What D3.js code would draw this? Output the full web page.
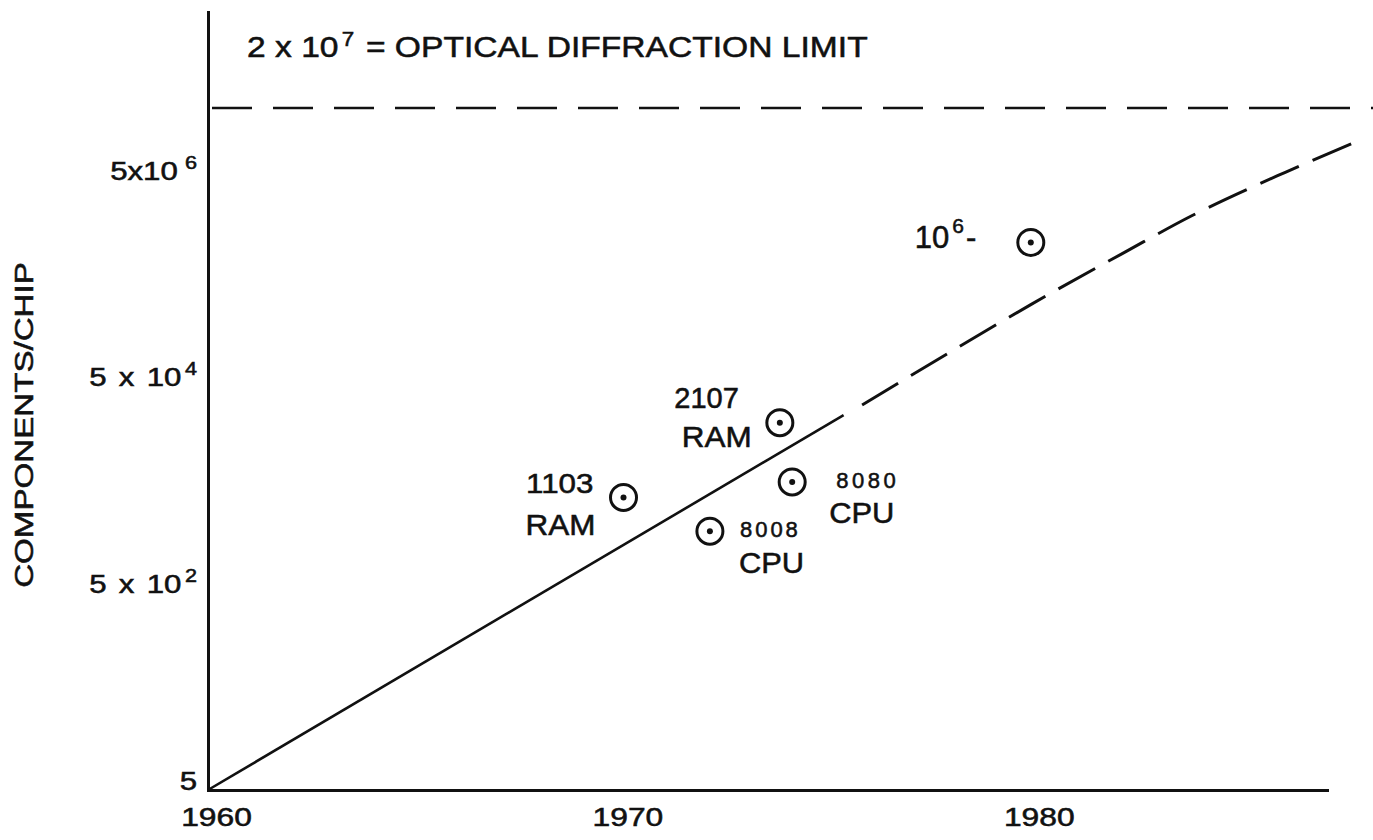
<!DOCTYPE html>
<html>
<head>
<meta charset="utf-8">
<script src="https://cdn.jsdelivr.net/npm/d3@7"></script>
<style>
  html, body { margin: 0; padding: 0; background: #fff; }
  svg { display: block; }
  text { font-family: "Liberation Sans", Arial, Helvetica, sans-serif; fill: #111; stroke: #111; stroke-width: 0.55px; }
</style>
</head>
<body>
<svg id="chart" width="1373" height="840"></svg>
<script>
// ---- data -------------------------------------------------------------
// Time axis ticks
const yearTicks = [1960, 1970, 1980];
// Components-per-chip ticks and their printed labels ("^" marks the power)
const countTicks = [5, 500, 5e4, 5e6];
const countTickLabels = ["5", "5 x 10^2", "5 x 10^4", "5x10^6"];

// Observed growth (solid) and the projected curve (dashed)
const trendYears = [1960, 1975.45];
const trendCounts = [5, 21300];
const projectionYears = [1975.9, 1978.0, 1980.0, 1982.3, 1983.9, 1986.2, 1987.9];
const projectionCounts = [26700, 85000, 250000, 810000, 1.8e6, 4.8e6, 9.4e6];

// Individual devices
const deviceNames = ["1103 RAM", "8008 CPU", "2107 RAM", "8080 CPU", "10^6"];
const deviceLabels = [["1103", "RAM"], ["8008", "CPU"], ["2107", "RAM"], ["8080", "CPU"], ["10^6-"]];
const deviceYears = [1970.1, 1972.2, 1973.9, 1974.2, 1980.0];
const deviceCounts = [3400, 1600, 18000, 4800, 1e6];

// Physical ceiling
const diffractionLimit = 2e7;
const diffractionText = "2 x 10^7 = OPTICAL DIFFRACTION LIMIT";
const yTitle = "COMPONENTS/CHIP";

// ---- layout ------------------------------------------------------------
const W = 1373, H = 840;
const ink = "#111";

// label placement relative to each device marker
const deviceLabelLayout = {
  "1103 RAM": [{dx: -30, dy: -4, size: 28, sx: 1.12, anchor: "end"},
               {dx: -28, dy: 38, size: 30, sx: 1.05, anchor: "end"}],
  "8008 CPU": [{dx: 30, dy: 6, size: 22, sx: 1.0, anchor: "start", ls: 3},
               {dx: 29, dy: 42, size: 30, sx: 1.03, anchor: "start"}],
  "2107 RAM": [{dx: -41, dy: -15, size: 29, sx: 1.0, anchor: "end"},
               {dx: -28, dy: 24, size: 30, sx: 1.05, anchor: "end"}],
  "8080 CPU": [{dx: 44, dy: 6, size: 22, sx: 1.0, anchor: "start", ls: 3.5},
               {dx: 37, dy: 41, size: 30, sx: 1.03, anchor: "start"}],
  "10^6":     [{dx: -116, dy: 6, size: 31, sx: 1.0, anchor: "start", sup: 21, supDy: -15}]
};

const svg = d3.select("#chart");
svg.append("rect").attr("width", W).attr("height", H).attr("fill", "#fff");

const x = d3.scaleLinear().domain([1960, 1987.2]).range([208, 1327]);
const y = d3.scaleLog().domain([5, 1.7e8]).range([790, 12]);

// writes a label; the character after "^" is set as a superscript
function rich(sel, str, supSize, supDy, supDx) {
  const k = str.indexOf("^");
  if (k < 0) { sel.append("tspan").text(str); return; }
  sel.append("tspan").text(str.slice(0, k));
  sel.append("tspan").attr("font-size", supSize).attr("dx", supDx || 3).attr("dy", supDy).text(str[k + 1]);
  const rest = str.slice(k + 2);
  if (rest) sel.append("tspan").attr("dx", 2).attr("dy", -supDy).text(rest);
}

// ---- axes ---------------------------------------------------------------
const xAxis = svg.append("g")
  .attr("transform", `translate(0,${y.range()[0]})`)
  .call(d3.axisBottom(x).tickValues(yearTicks).tickSize(0).tickSizeOuter(0).tickFormat(d3.format("d")));
xAxis.select(".domain").attr("stroke", ink).attr("stroke-width", 3).attr("stroke-linecap", "square");
xAxis.selectAll(".tick text")
  .attr("y", null).attr("dy", null)
  .attr("font-size", 26.5)
  .attr("transform", "translate(8,36) scale(1.2,1)");

const yAxis = svg.append("g")
  .attr("transform", `translate(${x.range()[0]},0)`)
  .call(d3.axisLeft(y).tickValues(countTicks).tickSize(0).tickSizeOuter(0).tickFormat(""));
yAxis.select(".domain").attr("stroke", ink).attr("stroke-width", 3).attr("stroke-linecap", "square");
yAxis.selectAll(".tick").each(function (d, i) {
  const ty = y(d);
  // the lowest label is lifted so it sits above the time axis
  const base = Math.min(9, y.range()[0] - 1 - ty);
  const t = d3.select(this).select("text")
    .attr("x", null).attr("dy", null)
    .attr("text-anchor", "end")
    .attr("font-size", 26)
    .attr("word-spacing", 3)
    .attr("transform", `translate(-11,${base}) scale(1.2,1)`);
  t.text(null);
  rich(t, countTickLabels[i], 18, -11, i === countTicks.length - 1 ? 6 : 3);
});

// vertical axis title
svg.append("text")
  .attr("text-anchor", "middle")
  .attr("font-size", 26.5)
  .attr("transform", "translate(33,425) rotate(-90) scale(1.25,1)")
  .text(yTitle);

// ---- diffraction limit ---------------------------------------------------
const yLimit = y(diffractionLimit);
svg.append("line")
  .attr("x1", x(1960) + 4).attr("x2", W)
  .attr("y1", yLimit).attr("y2", yLimit)
  .attr("stroke", ink).attr("stroke-width", 2.5)
  .attr("stroke-dasharray", "40,21");

const title = svg.append("text")
  .attr("font-size", 30)
  .attr("transform", `translate(${x(1960) + 39},${yLimit - 51}) scale(1.12,1)`);
rich(title, diffractionText, 20, -11);

// ---- trend ---------------------------------------------------------------
const lineGen = d3.line().x(d => x(d[0])).y(d => y(d[1]));
svg.append("path")
  .attr("d", lineGen(trendYears.map((yr, i) => [yr, trendCounts[i]])))
  .attr("fill", "none").attr("stroke", ink).attr("stroke-width", 2.6);

svg.append("path")
  .attr("d", lineGen.curve(d3.curveMonotoneX)(projectionYears.map((yr, i) => [yr, projectionCounts[i]])))
  .attr("fill", "none").attr("stroke", ink).attr("stroke-width", 3)
  .attr("stroke-dasharray", "42,15");

// ---- devices -------------------------------------------------------------
const devices = deviceNames.map((n, i) => ({
  name: n, lines: deviceLabels[i], year: deviceYears[i], count: deviceCounts[i]
}));

const dev = svg.append("g").selectAll("g").data(devices).join("g")
  .attr("transform", d => `translate(${x(d.year)},${y(d.count)})`);

dev.append("circle").attr("r", 13)
  .attr("fill", "none").attr("stroke", ink).attr("stroke-width", 3);
dev.append("circle").attr("r", 3).attr("fill", ink);

dev.each(function (d) {
  const g = d3.select(this);
  const specs = deviceLabelLayout[d.name];
  d.lines.forEach((line, j) => {
    const s = specs[j];
    const t = g.append("text")
      .attr("text-anchor", s.anchor)
      .attr("font-size", s.size)
      .attr("letter-spacing", s.ls || null)
      .attr("transform", `translate(${s.dx},${s.dy}) scale(${s.sx},1)`);
    rich(t, line, s.sup || 18, s.supDy || -11);
  });
});
</script>
</body>
</html>
